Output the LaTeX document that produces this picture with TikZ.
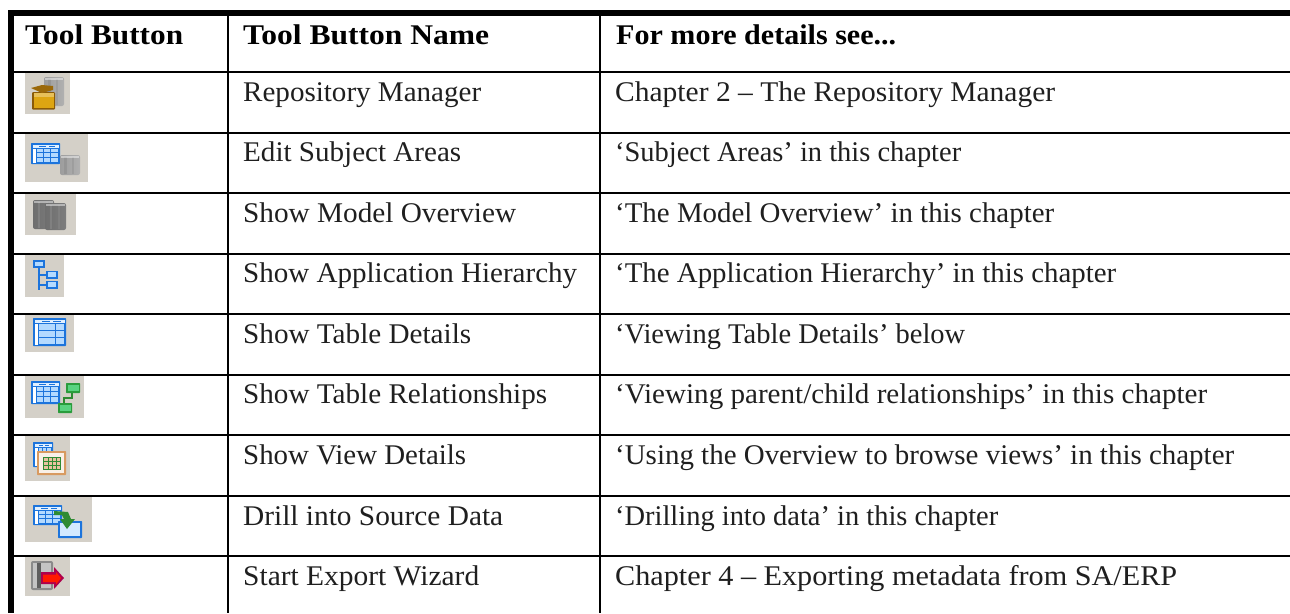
\documentclass[tikz,border=0pt]{standalone}
\usepackage{fontspec}
\usepackage{graphicx}
\setmainfont{Liberation Serif}
\definecolor{btn}{HTML}{D4D0C8}
\definecolor{blu}{HTML}{1C74DC}
\definecolor{lblu}{HTML}{B4DAFF}
\definecolor{gry}{HTML}{8A8A8A}
\definecolor{dgry}{HTML}{5E5E5E}
\definecolor{lgry}{HTML}{C4C4C4}
\definecolor{gold}{HTML}{DDA512}
\definecolor{dgold}{HTML}{8A5A08}
\definecolor{grn}{HTML}{22C455}
\definecolor{dgrn}{HTML}{2E8B32}
\definecolor{org}{HTML}{D89A60}
\tikzset{
 hdr/.style={anchor=base west,inner sep=0pt,font=\fontsize{28.5}{28.5}\selectfont\bfseries,text=black},
 cell/.style={anchor=base west,inner sep=0pt,font=\fontsize{28.5}{28.5}\selectfont,text=black!88},
 rule/.style={line width=2.4pt,draw=black},
 thick rule/.style={line width=6pt,draw=black},
 btnbg/.style={fill=btn,draw=none},
}
\newcommand{\fitw}[2]{\resizebox{#1pt}{\height}{#2}}
% table icon: x y w h in px
\newcommand{\tableicon}[4]{%
 \fill[blu,rounded corners=.6pt] (#1,#2) rectangle ++(#3,#4);
 \fill[white!60!lblu] (#1+1.5,#2+1.5) rectangle ++(#3-3,3.2);
 \fill[blu] ({#1+1.5+(#3-3)*.25},#2+2.6) rectangle ++({(#3-3)*.25},1);
 \fill[blu] ({#1+1.5+(#3-3)*.62},#2+2.6) rectangle ++({(#3-3)*.25},1);
 \fill[white] (#1+1.5,#2+5.5) rectangle ++(3.5,#4-7);
 \foreach \r in {0,1,2}{\foreach \k in {0,1,2}{
   \fill[lblu] ({#1+5.8+(#3-7.3)*\k/3},{#2+5.5+(#4-7)*\r/3}) rectangle ++({(#3-7.3)/3-.8},{(#4-7)/3-.8});}}
}
\newcommand{\drumicon}[5]{% x y w h colour
 \shade[left color=#5!80!black,middle color=#5!55!white,right color=#5!90!black,rounded corners=2pt] (#1,#2) rectangle ++(#3,#4);
 \fill[black!45,opacity=.55] ({#1+#3*.22},#2+1.5) rectangle ++({#3*.12},#4-3);
 \fill[black!45,opacity=.4] ({#1+#3*.62},#2+1.5) rectangle ++({#3*.08},#4-3);
 \fill[white,opacity=.45] (#1+1,#2+1) rectangle ++(#3-2,1.5);
}
\begin{document}
\begin{tikzpicture}[x=1pt,y=-1pt]
\useasboundingbox (0,0) rectangle (1290,613);
\fill[white] (0,0) rectangle (1290,613);
% button backgrounds
\fill[btnbg] (25,73) rectangle (70,114);
\fill[btnbg] (25,134) rectangle (88,182);
\fill[btnbg] (25,194) rectangle (76,235);
\fill[btnbg] (25,255) rectangle (64,297);
\fill[btnbg] (25,315) rectangle (74,352);
\fill[btnbg] (25,376) rectangle (84,418);
\fill[btnbg] (25,436) rectangle (70,481);
\fill[btnbg] (25,497) rectangle (92,542);
\fill[btnbg] (25,557) rectangle (70,596);
% 1 repository manager
\drumicon{44}{77}{20}{29}{lgry}
\fill[dgold,rounded corners=1pt] (32,92) rectangle (55,109.5);
\fill[gold] (33.5,97) rectangle (53.5,108);
\fill[gold!70!white] (33.5,93) rectangle (53.5,97);
\fill[dgold!80!gold] (31,88) -- (42,85) -- (53,86) -- (53,90) -- (42,93) -- cycle;
% 2 edit subject areas
\tableicon{31}{143}{29}{21}
\drumicon{60}{155}{20}{20}{lgry}
% 3 model overview
\drumicon{33}{200}{21}{29}{gry}
\drumicon{45}{203}{21}{27}{gry}
% 4 application hierarchy
\draw[blu,line width=1.5pt] (39,266) -- (39,290);
\draw[blu,line width=1.5pt] (39,275) -- (47,275);
\draw[blu,line width=1.5pt] (39,285) -- (47,285);
\foreach \a/\b/\c in {33/260/45,46/270.5/58,46/280.5/58}{\fill[blu] (\a,\b) rectangle (\c,\b+8);\fill[lblu] (\a+1.7,\b+1.7) rectangle (\c-1.7,\b+6.3);}
% 5 table details
\tableicon{33}{318}{33}{28}
% 6 table relationships
\tableicon{31}{381}{29}{23}
\draw[dgrn,line width=1.5pt] (72,392) -- (72,398) -- (64,398) -- (64,405);
\fill[dgrn!70!grn,rounded corners=.6pt] (66,383) rectangle (80,393);
\fill[grn!75!white] (67.5,384.5) rectangle (78.5,391);
\fill[dgrn!70!grn,rounded corners=.6pt] (58,403) rectangle (72,413);
\fill[grn!75!white] (59.5,404.5) rectangle (70.5,411);
% 7 view details
\tableicon{33}{442}{20}{25}
\fill[org,rounded corners=.6pt] (37,451) rectangle (66,475);
\fill[white!85!org] (39,453) rectangle (64,473);
\fill[dgrn] (43,456.5) rectangle (61,469.5);
\fill[org!60] (44,457.5) rectangle (60,468.5);
\foreach \k in {48,52,56}{\draw[dgrn,line width=.6pt] (\k,457) -- (\k,469);}
\foreach \k in {461,465}{\draw[dgrn,line width=.6pt] (43,\k) -- (61,\k);}
% 8 drill
\tableicon{33}{505}{29}{20}
\fill[blu,rounded corners=.6pt] (58,521) rectangle (82,538);
\fill[lblu!60!white] (60,523) rectangle (80,536);
\fill[dgrn] (54,511) -- (68,512) -- (71,519) -- (75,519) -- (67,529) -- (60,519) -- (64,519) -- (62,515) -- (54,515) -- cycle;
% 9 export wizard
\fill[gry,rounded corners=2pt] (31,561) rectangle (53,590);
\fill[lgry] (33,563) rectangle (51,588);
\fill[dgry] (37,563) rectangle (41,588);
\fill[red!55!black!70!magenta] (41,572) -- (54,572) -- (54,567) -- (64,578) -- (54,589) -- (54,584) -- (41,584) -- cycle;
\fill[red!80!orange] (43,574.5) -- (56,574.5) -- (56,572) -- (61,578) -- (56,584.5) -- (56,582) -- (43,582) -- cycle;
% rules
\foreach \yy in {71.7,132.7,192.7,254,313.7,375,435,495.7,555.7}{\draw[rule] (8,\yy) -- (1290,\yy);}
\draw[rule] (228,16) -- (228,613);
\draw[rule] (600,16) -- (600,613);
\draw[thick rule] (8,13) -- (1290,13);
\draw[thick rule] (11,10) -- (11,613);
% text
\node[hdr] (h1) at (25,44) {\fitw{158}{Tool Button}};
\node[hdr] (h2) at (243,44) {\fitw{246}{Tool Button Name}};
\node[hdr] (h3) at (616,44) {\fitw{280}{For more details see...}};
\foreach \n/\yy/\wa/\a/\wb/\b in {
r1/101/238/{Repository Manager}/440/{Chapter 2 – The Repository Manager},
r2/161/218/{Edit Subject Areas}/346/{‘Subject Areas’ in this chapter},
r3/222/273/{Show Model Overview}/439/{‘The Model Overview’ in this chapter},
r4/282/334/{Show Application Hierarchy}/501/{‘The Application Hierarchy’ in this chapter},
r5/343/228/{Show Table Details}/350/{‘Viewing Table Details’ below},
r6/403/304/{Show Table Relationships}/592/{‘Viewing parent/child relationships’ in this chapter},
r7/464/223/{Show View Details}/619/{‘Using the Overview to browse views’ in this chapter},
r8/525/260/{Drill into Source Data}/383/{‘Drilling into data’ in this chapter},
r9/585/236/{Start Export Wizard}/562/{Chapter 4 – Exporting metadata from SA/ERP}}{
 \node[cell] (\n a) at (243,\yy) {\fitw{\wa}{\a}};
 \node[cell] (\n b) at (615,\yy) {\fitw{\wb}{\b}};
}
\end{tikzpicture}
\end{document}
